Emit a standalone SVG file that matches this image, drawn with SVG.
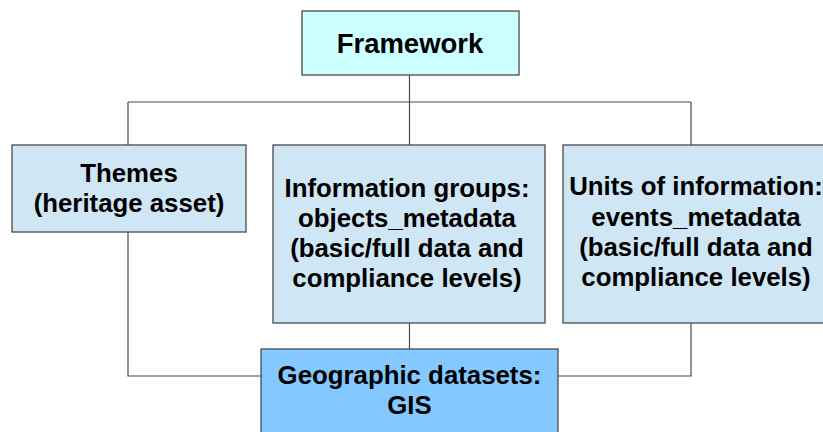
<svg xmlns="http://www.w3.org/2000/svg" width="823" height="432" viewBox="0 0 823 432">
<style>
.box{stroke:#4a4a4a;stroke-width:1.3}
.top{fill:#ccffff}
.mid{fill:#cfe6f4}
.geo{fill:#83c9ff}
.conn{fill:none;stroke:#4a4a4a;stroke-width:1.2}
text{font-family:"Liberation Sans",Arial,sans-serif;font-weight:bold;font-size:25.8px;fill:#000;text-anchor:middle}
</style>
<rect x="0" y="0" width="823" height="432" fill="#ffffff"/>
<g id="connectors">
<path class="conn" d="M409.5 75 V102 M128 102 H691 M128 102 V145 M409.5 102 V145 M691 102 V145"/>
<path class="conn" d="M128 232 V376 H261 M409.5 323 V349 M691 323 V376 H558"/>
</g>
<g id="framework">
<rect class="box top" x="302" y="11" width="217" height="64"/>
<text x="410" y="53" style="font-size:27.5px">Framework</text>
</g>
<g id="themes">
<rect class="box mid" x="12" y="145" width="234" height="87"/>
<text x="129" y="182">Themes</text>
<text x="129" y="212">(heritage asset)</text>
</g>
<g id="information-groups">
<rect class="box mid" x="273" y="145" width="272" height="178"/>
<text x="407" y="197">Information groups:</text>
<text x="407" y="227">objects_metadata</text>
<text x="407" y="257">(basic/full data and</text>
<text x="407" y="287">compliance levels)</text>
</g>
<g id="units-of-information">
<rect class="box mid" x="563" y="145" width="272" height="178"/>
<text x="696" y="195">Units of information:</text>
<text x="696" y="226">events_metadata</text>
<text x="696" y="256">(basic/full data and</text>
<text x="696" y="286">compliance levels)</text>
</g>
<g id="geographic-datasets">
<rect class="box geo" x="261" y="349" width="297" height="100"/>
<text x="409.5" y="384">Geographic datasets:</text>
<text x="409.5" y="414">GIS</text>
</g>
</svg>
